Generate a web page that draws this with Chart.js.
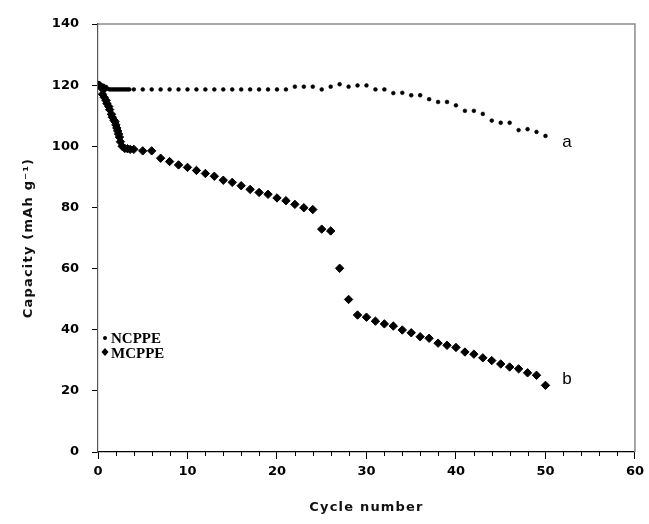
<!DOCTYPE html>
<html>
<head>
<meta charset="utf-8">
<script src="https://cdn.jsdelivr.net/npm/chart.js@4.4.0/dist/chart.umd.min.js"></script>
<style>
  html, body { margin: 0; padding: 0; background: #fff; }
  #wrap { width: 649px; height: 524px; }
</style>
</head>
<body>
<div id="wrap"><canvas id="myChart" width="649" height="524"></canvas></div>
<script>
// NCPPE (curve a) - small dots
const ncppeCycles = [0, 0.3, 0.6, 0.9, 1.1, 1.3, 1.5, 1.7, 1.9, 2.1, 2.3, 2.5, 2.7, 2.9, 3.1, 3.3, 3.5,
  4, 5, 6, 7, 8, 9, 10, 11, 12, 13, 14, 15, 16, 17, 18, 19, 20, 21, 22, 23, 24, 25, 26, 27, 28, 29, 30,
  31, 32, 33, 34, 35, 36, 37, 38, 39, 40, 41, 42, 43, 44, 45, 46, 47, 48, 49, 50];
const ncppeCapacity = [120, 120, 119.8, 119.4, 118.8, 118.6, 118.6, 118.6, 118.6, 118.6, 118.6, 118.6, 118.6, 118.6, 118.6, 118.6, 118.6,
  118.6, 118.6, 118.6, 118.6, 118.6, 118.6, 118.6, 118.6, 118.6, 118.6, 118.6, 118.6, 118.6, 118.6, 118.6, 118.6, 118.6, 118.6, 119.5, 119.5, 119.5, 118.6, 119.5, 120.3, 119.5, 119.9, 119.9,
  118.6, 118.6, 117.4, 117.5, 116.7, 116.7, 115.4, 114.5, 114.5, 113.4, 111.6, 111.6, 110.6, 108.4, 107.7, 107.7, 105.3, 105.6, 104.7, 103.4];

// MCPPE (curve b) - diamonds
const mcppeCycles = [0, 0.15, 0.3, 0.45, 0.6, 0.5, 0.7, 0.9, 1.0, 1.2, 1.3, 1.5, 1.6, 1.8, 1.9, 2.0, 2.1, 2.2, 2.3, 2.4, 2.5, 2.7, 3.0, 3.3, 3.6, 4.0,
  5, 6, 7, 8, 9, 10, 11, 12, 13, 14, 15, 16, 17, 18, 19, 20, 21, 22, 23, 24, 25, 26, 27, 28, 29, 30,
  31, 32, 33, 34, 35, 36, 37, 38, 39, 40, 41, 42, 43, 44, 45, 46, 47, 48, 49, 50];
const mcppeCapacity = [120, 120, 119.5, 119, 118.5, 117, 116, 115, 114, 113, 112, 110.5, 109.5, 108.5, 108, 107, 106, 105, 104, 103, 101.5, 100, 99.3, 99.2, 99, 99,
  98.5, 98.5, 96.1, 95, 93.9, 93.1, 92.1, 91.1, 90.2, 88.9, 88.2, 87.1, 85.9, 84.9, 84.3, 83.1, 82.2, 81.0, 79.9, 79.3, 72.9, 72.3, 60.1, 49.9, 44.8, 44.1,
  42.8, 41.9, 41.2, 39.9, 39.0, 37.7, 37.2, 35.6, 34.9, 34.2, 32.7, 32.0, 30.8, 29.9, 28.8, 27.8, 27.2, 25.9, 25.1, 21.8];

const seriesNames = ['NCPPE', 'MCPPE'];
const curveLabels = ['a', 'b'];
const curveLabelX = [52.4, 52.4];
const curveLabelY = [101.4, 23.8];
const xTitle = 'Cycle number';
const yTitle = 'Capacity (mAh g\u207B\u00B9)';

const toPoints = (xs, ys) => xs.map((x, i) => ({ x: x, y: ys[i] }));

const tickFont = { family: 'DejaVu Sans', size: 13, weight: 'bold' };

// extra drawing: frame, minor ticks, axis titles, legend, curve labels
const extras = {
  id: 'extras',
  beforeDatasetsDraw(chart) {
    const { ctx, chartArea: a, scales } = chart;
    ctx.save();
    // top and right frame
    ctx.strokeStyle = '#8a8a8a';
    ctx.lineWidth = 1.5;
    ctx.beginPath();
    ctx.moveTo(a.left, a.top);
    ctx.lineTo(a.right, a.top);
    ctx.lineTo(a.right, a.bottom);
    ctx.stroke();
    // minor ticks on x every 2
    ctx.strokeStyle = '#000';
    ctx.lineWidth = 1;
    ctx.beginPath();
    for (let v = 2; v < 60; v += 2) {
      if (v % 10 === 0) continue;
      const px = Math.round(scales.x.getPixelForValue(v)) + 0.5;
      ctx.moveTo(px, a.bottom);
      ctx.lineTo(px, a.bottom + 4);
    }
    ctx.stroke();

    // axis titles
    ctx.fillStyle = '#111';
    ctx.font = 'bold 13px "DejaVu Sans"';
    ctx.letterSpacing = '1.2px';
    ctx.textAlign = 'center';
    ctx.textBaseline = 'middle';
    ctx.fillText(xTitle, (a.left + a.right) / 2, 508);
    ctx.save();
    ctx.translate(29, (a.top + a.bottom) / 2);
    ctx.rotate(-Math.PI / 2);
    ctx.fillText(yTitle, 0, 0);
    ctx.restore();
    ctx.letterSpacing = '0px';

    // legend
    ctx.fillStyle = '#000';
    ctx.beginPath();
    ctx.arc(105, 338, 2, 0, Math.PI * 2);
    ctx.fill();
    ctx.beginPath();
    ctx.moveTo(105, 348); ctx.lineTo(108.5, 352); ctx.lineTo(105, 356); ctx.lineTo(101.5, 352);
    ctx.closePath();
    ctx.fill();
    ctx.font = 'bold 15px "Liberation Serif"';
    ctx.textAlign = 'left';
    ctx.textBaseline = 'alphabetic';
    ctx.fillText(seriesNames[0], 111, 343);
    ctx.fillText(seriesNames[1], 111, 358);

    // curve labels a, b
    ctx.font = '17px "Liberation Sans"';
    ctx.textAlign = 'center';
    ctx.textBaseline = 'middle';
    curveLabels.forEach((t, i) => {
      ctx.fillText(t, scales.x.getPixelForValue(curveLabelX[i]), scales.y.getPixelForValue(curveLabelY[i]));
    });
    ctx.restore();
  }
};

new Chart(document.getElementById('myChart'), {
  type: 'scatter',
  data: {
    datasets: [
      {
        label: seriesNames[0],
        data: toPoints(ncppeCycles, ncppeCapacity),
        pointStyle: 'circle',
        pointRadius: 1.9,
        borderWidth: 0.6,
        backgroundColor: '#000',
        borderColor: '#000'
      },
      {
        label: seriesNames[1],
        data: toPoints(mcppeCycles, mcppeCapacity),
        pointStyle: 'rectRot',
        pointRadius: 4.2,
        borderWidth: 1,
        backgroundColor: '#000',
        borderColor: '#000'
      }
    ]
  },
  options: {
    responsive: false,
    animation: false,
    layout: { padding: { top: 24, right: 8, left: 0, bottom: 0 } },
    plugins: { legend: { display: false }, tooltip: { enabled: false } },
    scales: {
      x: {
        type: 'linear',
        min: 0, max: 60,
        afterFit: (s) => { s.height = 72; },
        ticks: { stepSize: 10, color: '#000', font: tickFont, padding: 5, maxRotation: 0 },
        grid: { drawOnChartArea: false, tickLength: 7, color: '#000' },
        border: { color: '#000', width: 1.2 }
      },
      y: {
        min: 0, max: 140,
        afterFit: (s) => { s.width = 98; },
        ticks: { stepSize: 20, color: '#000', font: tickFont, padding: 13 },
        grid: { drawOnChartArea: false, tickLength: 6, color: '#000' },
        border: { color: '#555', width: 1.2 }
      }
    }
  },
  plugins: [extras]
});
</script>
</body>
</html>
